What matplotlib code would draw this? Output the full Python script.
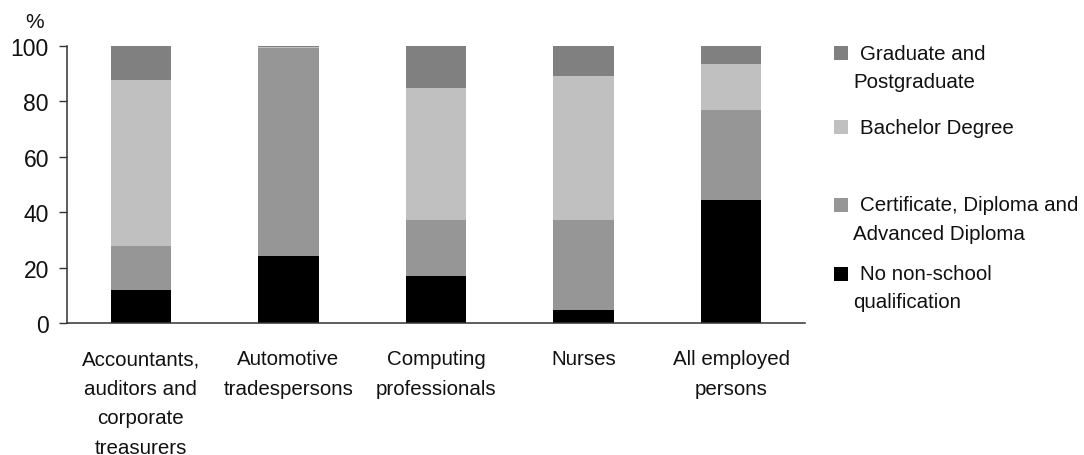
import matplotlib.pyplot as plt
import numpy as np
from matplotlib.patches import Rectangle

plt.rcParams['font.family'] = ['Liberation Sans', 'DejaVu Sans']

# Occupazioni e quote (%) per livello di qualifica
occupations = [
    "Accountants,\nauditors and\ncorporate\ntreasurers",
    "Automotive\ntradespersons",
    "Computing\nprofessionals",
    "Nurses",
    "All employed\npersons",
]
no_qualification = [12.0, 24.3, 17.0, 4.8, 44.5]
certificate = [15.8, 75.0, 20.3, 32.5, 32.5]
bachelor = [59.9, 0.5, 47.5, 51.9, 16.6]
graduate = [12.3, 0.2, 15.2, 10.8, 6.4]

series = [
    ("No non-school\nqualification", no_qualification, "#000000"),
    ("Certificate, Diploma and\nAdvanced Diploma", certificate, "#969696"),
    ("Bachelor Degree", bachelor, "#c0c0c0"),
    ("Graduate and\nPostgraduate", graduate, "#808080"),
]

W, H = 1084, 456
fig = plt.figure(figsize=(W / 100, H / 100), dpi=100)
ax = fig.add_axes([67 / W, 1 - 324 / H, 738 / W, 277 / H])

x = np.arange(len(occupations))
bottom = np.zeros(len(occupations))
for label, vals, col in series:
    ax.bar(x, vals, width=0.41, bottom=bottom, color=col, edgecolor="none")
    bottom += np.array(vals)

ax.set_xlim(-0.5, len(occupations) - 0.5)
ax.set_ylim(0, 100)
ax.set_yticks(np.arange(0, 101, 20))
ax.set_xticks(x)
ax.set_xticklabels(occupations, fontsize=14.8, linespacing=1.7, color="#111111")
ax.tick_params(axis="x", length=0, pad=19)
ax.tick_params(axis="y", length=6, width=1, direction="out", pad=7,
               labelsize=16.5, color="#333333", labelcolor="#111111")
for s in ("top", "right"):
    ax.spines[s].set_visible(False)
for s in ("left", "bottom"):
    ax.spines[s].set_color("#333333")
    ax.spines[s].set_linewidth(1.1)

fig.text(35 / W, 1 - 22 / H, "%", fontsize=15, ha="center", va="center",
         color="#111111")

# Legenda manuale (ordine dall'alto, spaziatura irregolare)
legend_y = [54, 128, 206, 275]
for (label, vals, col), yc in zip(series[::-1], legend_y):
    fig.patches.append(Rectangle((834 / W, 1 - (yc + 7) / H), 14 / W, 14 / H,
                                 transform=fig.transFigure, facecolor=col,
                                 edgecolor="none"))
    lines = label.split("\n")
    fig.text(860 / W, 1 - yc / H, lines[0], fontsize=14.8, va="center",
             ha="left", color="#111111")
    for i, extra in enumerate(lines[1:], start=1):
        fig.text(853 / W, 1 - (yc + 28 * i) / H, extra, fontsize=14.8,
                 va="center", ha="left", color="#111111")

fig.savefig("out.png", dpi=100)
plt.close(fig)
